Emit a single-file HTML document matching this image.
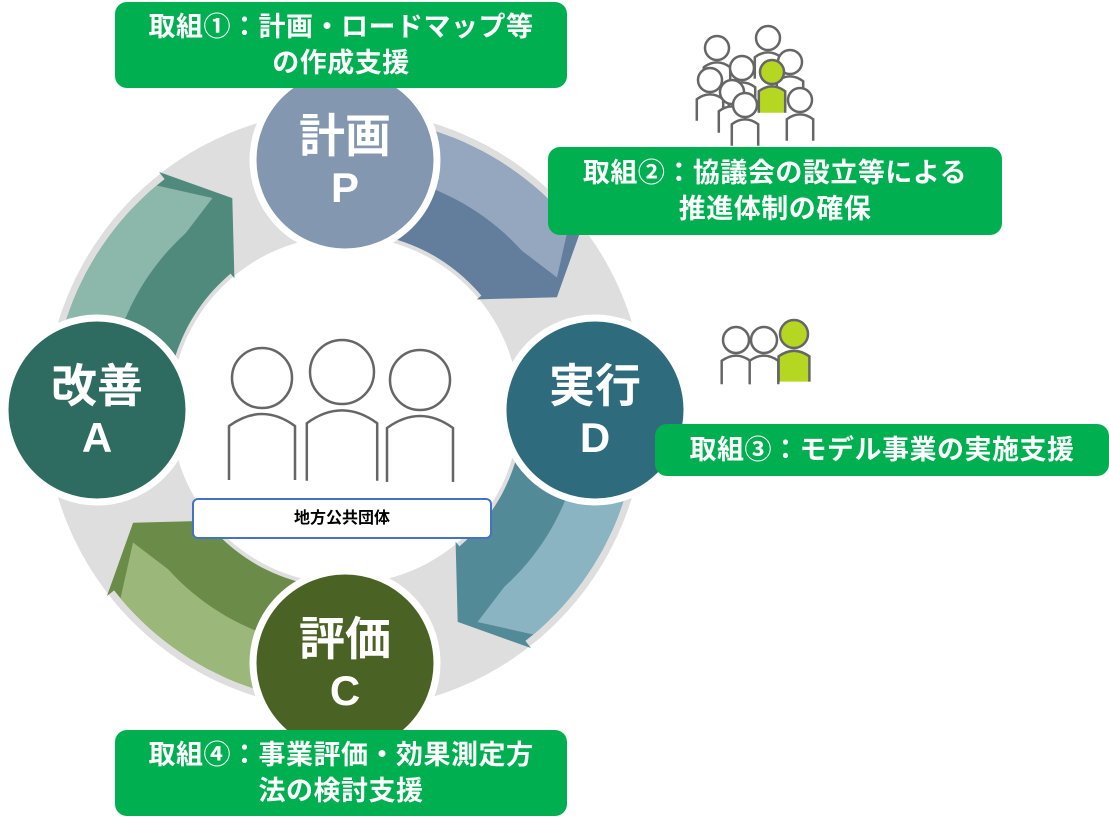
<!DOCTYPE html>
<html><head><meta charset="utf-8"><style>
body{margin:0;background:#fff;width:1109px;height:826px;overflow:hidden;position:relative;font-family:"Liberation Sans","Noto Sans CJK JP",sans-serif}
.g{position:absolute;background:#00b050;border-radius:12px;color:#fff;font-weight:bold;font-size:27px;line-height:36px;text-align:center;display:flex;align-items:center;justify-content:center;letter-spacing:0.5px}
</style></head><body>
<svg id="s" width="1109" height="826" style="position:absolute;left:0;top:0"></svg>
<div class="g" style="left:115px;top:2px;width:452px;height:86px">取組①：計画・ロードマップ等<br>の作成支援</div>
<div class="g" style="left:548px;top:147px;width:454px;height:88px">取組②：協議会の設立等による<br>推進体制の確保</div>
<div class="g" style="left:655px;top:424px;width:454px;height:52px">取組③：モデル事業の実施支援</div>
<div class="g" style="left:115px;top:730px;width:452px;height:86px">取組④：事業評価・効果測定方<br>法の検討支援</div>
<div style="position:absolute;left:192px;top:498px;width:296px;height:37px;border:2px solid #4472c4;border-radius:6px;background:#fff;font-size:16px;font-weight:bold;text-align:center;line-height:37px">地方公共団体</div>
<script>
var cx=345,cy=410,s='';
function P(r,a){a=a*Math.PI/180;return (cx+r*Math.cos(a)).toFixed(1)+','+(cy+r*Math.sin(a)).toFixed(1);}
s+='<circle cx="345" cy="410" r="300" fill="#dedede"/><circle cx="345" cy="410" r="174" fill="#fff"/>';
var arr=[[-90,'#637e9d','#94a7bf'],[0,'#528a98','#8ab4c1'],[90,'#6a8c48','#9bb77a'],[180,'#4f8a7c','#8bb8aa']];
arr.forEach(function(a){var b=a[0],pts=[];
 for(var t=0;t<=52;t+=2)pts.push(P(293,b+t));
 pts.push(P(302,b+52));pts.push(P(240,b+62));pts.push(P(172,b+50));
 for(var t=50;t>=0;t-=2)pts.push(P(178,b+t));
 s+='<polygon points="'+pts.join(' ')+'" fill="'+a[1]+'"/>';
 pts=[];for(var t=0;t<=50;t+=2)pts.push(P(293,b+t));
 pts.push(P(250,b+58));
 for(var t=48;t>=0;t-=2)pts.push(P(238,b+t));
 s+='<polygon points="'+pts.join(' ')+'" fill="'+a[2]+'"/>';
});
var cs=[[345,160,'#8497b0','計画','P'],[595,410,'#2e6b7c','実行','D'],[345,663,'#4a6224','評価','C'],[97,410,'#2e6b60','改善','A']];
cs.forEach(function(c){s+='<circle cx="'+c[0]+'" cy="'+c[1]+'" r="92" fill="'+c[2]+'" stroke="#fff" stroke-width="7"/>'+
'<text x="'+c[0]+'" y="'+(c[1]-8)+'" fill="#fff" font-size="46" font-weight="bold" text-anchor="middle" font-family="Liberation Sans,Noto Sans CJK JP,sans-serif">'+c[3]+'</text>'+
'<text x="'+c[0]+'" y="'+(c[1]+42)+'" fill="#fff" font-size="42" font-weight="bold" text-anchor="middle" font-family="Liberation Sans,sans-serif">'+c[4]+'</text>';});
function person(x,y,r,col){return '<circle cx="'+x+'" cy="'+y+'" r="'+r+'" fill="'+col+'" stroke="#666" stroke-width="2.5"/>'+
'<path d="M'+(x-r*1.1)+','+(y+r*3.4)+' L'+(x-r*1.1)+','+(y+r*1.6)+' Q'+x+','+(y+r*0.8)+' '+(x+r*1.1)+','+(y+r*1.6)+' L'+(x+r*1.1)+','+(y+r*3.4)+'" fill="'+col+'" stroke="#666" stroke-width="2.5"/>';}
s+=person(262,378,30,'#fff')+person(342,372,32,'#fff')+person(420,380,30,'#fff');
s+=person(736,340,13,'#fff')+person(764,340,13,'#fff')+person(794,334,14,'#b5d722');
[[717,48],[742,68],[768,38],[790,62],[710,80],[732,92],[800,100],[745,105]].forEach(function(p){s+=person(p[0],p[1],12,'#fff');});
s+=person(772,72,12,'#b5d722');
document.getElementById('s').innerHTML=s;
</script>
</body></html>
